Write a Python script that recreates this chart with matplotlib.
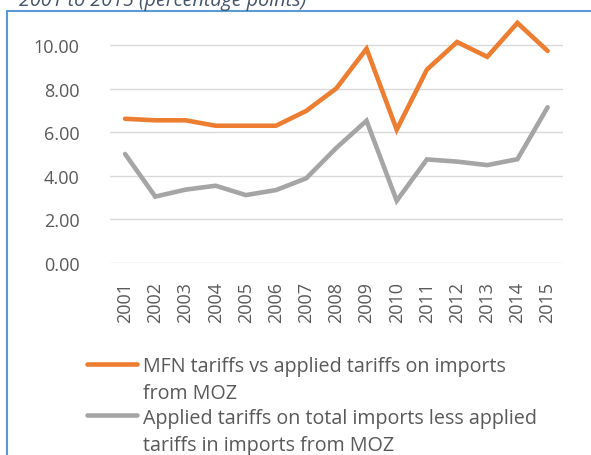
import matplotlib.pyplot as plt
from matplotlib.lines import Line2D
from matplotlib.patches import Rectangle

years = ['2001', '2002', '2003', '2004', '2005', '2006', '2007', '2008',
         '2009', '2010', '2011', '2012', '2013', '2014', '2015']
mfn_vs_moz = [6.62, 6.55, 6.55, 6.30, 6.30, 6.30, 6.98, 8.02,
              9.84, 6.12, 8.88, 10.15, 9.47, 11.03, 9.74]
total_less_moz = [5.00, 3.04, 3.36, 3.54, 3.11, 3.34, 3.88, 5.28,
                  6.53, 2.85, 4.75, 4.65, 4.49, 4.76, 7.15]
labels = ['MFN tariffs vs applied tariffs on imports\nfrom MOZ',
          'Applied tariffs on total imports less applied\ntariffs in imports from MOZ']

W, H = 591, 456
orange = '#ED7D31'
grey = '#A5A5A5'
txt = '#595959'
plt.rcParams['font.family'] = ['Open Sans', 'DejaVu Sans']

fig = plt.figure(figsize=(W / 100, H / 100), dpi=100)

# chart frame, cut off on the right and bottom
fig.add_artist(Rectangle((7 / W, -0.1), 1.2, (H - 12) / H + 0.1, transform=fig.transFigure,
                         fill=False, edgecolor='#5B9BD5', linewidth=1.5))
fig.text(19 / W, (H - 6) / H, '2001 to 2015 (percentage points)', style='italic',
         color='#44546A', fontsize=14.2, va='baseline')

ax = fig.add_axes([110 / W, 192.3 / H, 452.7 / W, 243.5 / H])
x = range(len(years))
ax.plot(x, mfn_vs_moz, color=orange, lw=3.3, solid_capstyle='round',
        solid_joinstyle='miter', clip_on=False)
ax.plot(x, total_less_moz, color=grey, lw=3.3, solid_capstyle='round',
        solid_joinstyle='miter', clip_on=False)

ax.set_xlim(-0.5, len(years) - 0.5)
ax.set_ylim(0, 11.2)
ax.set_yticks([0, 2, 4, 6, 8, 10])
ax.set_yticklabels(['%.2f' % v for v in [0, 2, 4, 6, 8, 10]])
ax.set_xticks(list(x))
ax.set_xticklabels(years, rotation=90)
ax.tick_params(axis='y', length=0, pad=22, labelsize=13, labelcolor=txt)
ax.tick_params(axis='x', length=0, pad=13, labelsize=13, labelcolor=txt)
ax.yaxis.grid(True, color='#D9D9D9', lw=1)
ax.set_axisbelow(True)
for s in ax.spines.values():
    s.set_visible(False)

# legend, handle sits beside the first line of each entry
for lab, col, ly, ty in [(labels[0], orange, 365, 372), (labels[1], grey, 416, 424)]:
    fig.add_artist(Line2D([87 / W, 137 / W], [(H - ly) / H] * 2, transform=fig.transFigure,
                          color=col, lw=3.3, solid_capstyle='round'))
    first, second = lab.split('\n')
    fig.text(143 / W, (H - ty) / H, first, color=txt, fontsize=14.2, va='baseline')
    fig.text(143 / W, (H - ty - 27) / H, second, color=txt, fontsize=14.2, va='baseline')

fig.savefig('out.png', dpi=100)
